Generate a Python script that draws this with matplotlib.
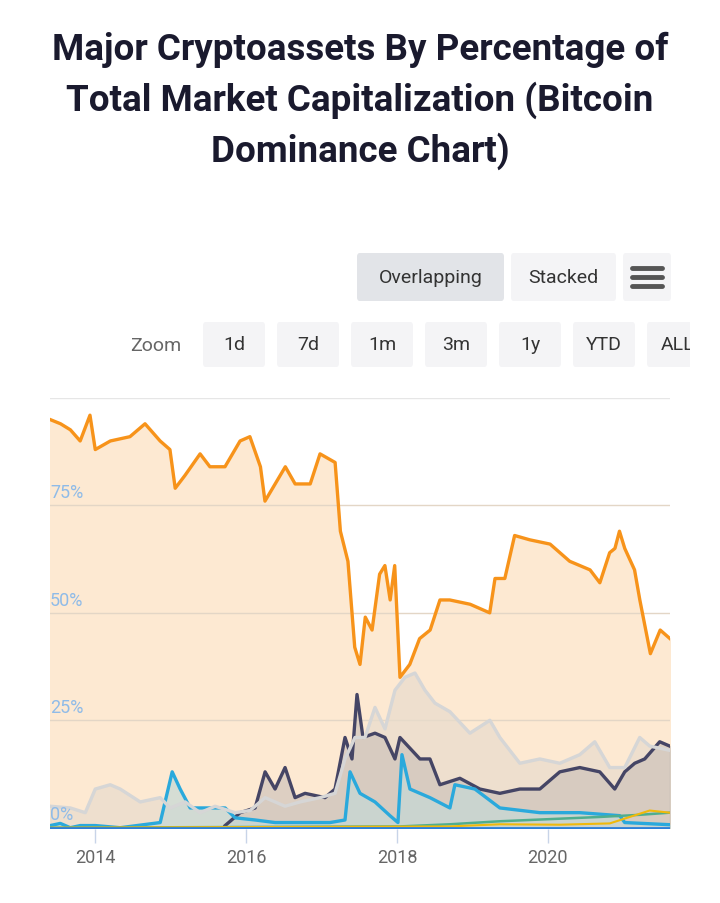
import matplotlib.pyplot as plt
from matplotlib.patches import FancyBboxPatch, Rectangle

plt.rcParams['font.family'] = ['Roboto', 'DejaVu Sans']

# Bitcoin dominance (%)
btc_t = [2013.40, 2013.54, 2013.67, 2013.80, 2013.93, 2014.00, 2014.20, 2014.46, 2014.66, 2014.86,
         2014.99, 2015.06, 2015.19, 2015.39, 2015.52, 2015.72, 2015.92, 2016.05, 2016.19, 2016.25,
         2016.52, 2016.65, 2016.85, 2016.98, 2017.18, 2017.25, 2017.35, 2017.44, 2017.51, 2017.58,
         2017.67, 2017.77, 2017.84, 2017.91, 2017.97, 2018.04, 2018.17, 2018.30, 2018.44, 2018.57,
         2018.70, 2018.97, 2019.23, 2019.30, 2019.43, 2019.56, 2019.76, 2020.03, 2020.29, 2020.56,
         2020.69, 2020.82, 2020.89, 2020.95, 2021.02, 2021.15, 2021.22, 2021.36, 2021.49, 2021.62]
btc_v = [95, 94, 92.6, 90, 96, 88, 90, 91, 94, 90,
         88, 79, 82, 87, 84, 84, 90, 91, 84, 76,
         84, 80, 80, 87, 85, 69, 62, 42, 38, 49,
         46, 59, 61, 53, 61, 35, 38, 44, 46, 53,
         53, 52, 50, 58, 58, 68, 67, 66, 62, 60,
         57, 64, 65, 69, 65, 60, 53, 40.5, 46, 44]

# Others
oth_x = [50, 70, 85, 95, 110, 120, 140, 160, 170, 185, 200, 215, 235, 250, 265, 285, 300, 320, 335,
         345, 355, 365, 375, 385, 395, 405, 415, 425, 435, 450, 470, 490, 500, 520, 540, 560, 580,
         595, 610, 625, 640, 650, 670]
oth_v = [5, 4.6, 3.5, 9, 10, 9, 6, 7, 4.6, 6, 3.5, 5, 3.5, 4, 7, 5, 6, 7, 8,
         16, 21, 21, 28, 23, 32, 35, 36, 32, 29, 27, 22, 25, 21, 15, 16, 15, 17,
         20, 14, 14, 21, 19, 18]

# Ethereum
eth_x = [225, 240, 255, 265, 275, 285, 295, 305, 325, 335, 345, 352, 357, 363, 375, 385, 395, 400,
         410, 420, 430, 440, 460, 480, 500, 520, 540, 560, 580, 600, 615, 625, 635, 645, 660, 670]
eth_v = [0.5, 3.5, 4.6, 13, 9, 14, 7, 8, 7, 9, 21, 16, 31, 21, 22, 21, 16, 21,
         18.5, 16, 16, 10, 11.5, 9, 8, 9, 9, 13, 14, 13, 9, 13, 15, 16, 20, 19]

# XRP
xrp_x = [50, 60, 70, 80, 95, 120, 160, 172, 180, 190, 210, 225, 235, 255, 275, 300, 330, 345, 350,
         360, 375, 390, 398, 402, 410, 430, 450, 455, 475, 500, 540, 580, 620, 625, 670]
xrp_v = [0.5, 1, 0, 0.5, 0.5, 0, 1.2, 13, 9, 4.6, 4.6, 4.6, 2.3, 1.8, 1.2, 1.2, 1.2, 1.8, 13,
         8, 6, 2.8, 1.2, 17, 9, 7, 4.6, 10, 9, 4.6, 3.5, 3.5, 2.8, 1.2, 0.7]

# Tether / BNB (small series)
usdt_x = [50, 400, 450, 500, 550, 600, 640, 670]
usdt_v = [0, 0.3, 0.8, 1.5, 2, 2.5, 3, 3.5]
bnb_x = [50, 450, 500, 560, 610, 630, 650, 670]
bnb_v = [0, 0.3, 0.8, 0.7, 1, 2.5, 4, 3.5]


def px2year(xs):
    return [2014 + (x - 95) / 75.5 for x in xs]


fig = plt.figure(figsize=(7.2, 9.04), dpi=100)

fig.text(0.5, 1 - 101 / 904, "Major Cryptoassets By Percentage of\nTotal Market Capitalization (Bitcoin\nDominance Chart)",
         ha='center', va='center', fontsize=26.5, fontweight='bold', color='#1a1a2e', linespacing=1.45)


def button(x0, y0, w, h, label, bg, fs=14):
    fig.patches.append(FancyBboxPatch((x0 / 720, 1 - (y0 + h) / 904), w / 720, h / 904,
                                      boxstyle='round,pad=0,rounding_size=0.004', transform=fig.transFigure,
                                      facecolor=bg, edgecolor='none'))
    if label:
        fig.text((x0 + w / 2) / 720, 1 - (y0 + h / 2) / 904, label, ha='center', va='center',
                 fontsize=fs, color='#333333')


button(357, 254, 147, 48, "Overlapping", '#e2e4e8')
button(511, 254, 105, 48, "Stacked", '#f4f4f6')
button(623, 254, 48, 48, "", '#f4f4f6')
for dy in (-9, 0, 9):
    fig.lines.append(plt.Line2D([632 / 720, 662 / 720], [1 - (278 + dy) / 904] * 2, transform=fig.transFigure,
                                color='#555555', lw=3.5, solid_capstyle='round'))

fig.text(130 / 720, 1 - 346 / 904, "Zoom", ha='left', va='center', fontsize=14, color='#666666')
for x0, w, lab in [(203, 62, "1d"), (277, 62, "7d"), (351, 62, "1m"), (425, 62, "3m"),
                   (499, 62, "1y"), (573, 62, "YTD"), (647, 62, "ALL")]:
    button(x0, 323, w, 45, lab, '#f4f4f6')
# the range selector is cut off at the right edge
cover = Rectangle((690 / 720, 1 - 372 / 904), 30 / 720, 52 / 904, transform=fig.transFigure,
                  facecolor='white', edgecolor='none', zorder=10)
fig.patches.append(cover)

ax = fig.add_axes([50 / 720, 1 - 830 / 904, 620 / 720, 431 / 904])
ax.set_xlim(2013.40, 2021.62)
ax.set_ylim(-0.3, 100)

bt = btc_t
ax.fill_between(bt, btc_v, 0, color='#fde9d2', zorder=1)
ax.plot(bt, btc_v, color='#f7931a', lw=2.4, zorder=5)

ot = px2year(oth_x)
ax.fill_between(ot, oth_v, 0, color='#e8dccd', alpha=0.7, zorder=2)
ax.plot(ot, oth_v, color='#d6d6d6', lw=2.4, zorder=4)

et = px2year(eth_x)
ax.fill_between(et, eth_v, 0, color='#c9bfb8', alpha=0.6, zorder=2)
ax.plot(et, eth_v, color='#454565', lw=2.4, zorder=3)

xt = px2year(xrp_x)
ax.fill_between(xt, xrp_v, 0, color='#c5d8d6', alpha=0.7, zorder=2)
ax.plot(xt, xrp_v, color='#2aa9dc', lw=2.4, zorder=3)

ax.plot(px2year(usdt_x), usdt_v, color='#4fae8e', lw=1.8, zorder=3)
ax.plot(px2year(bnb_x), bnb_v, color='#f0b90b', lw=1.5, zorder=3)
ax.axhline(0, color='#2b7fd8', lw=2, zorder=3)

for v in (25, 50, 75, 100):
    ax.axhline(v, color='#e3d6c6' if v < 100 else '#e6e6e6', lw=1, zorder=1.5)
for v in (0, 25, 50, 75):
    ax.text(2013.40, v + 1.0, f"{v}%", ha='left', va='bottom', fontsize=13, color='#8fbbe8', zorder=6)

for s in ax.spines.values():
    s.set_visible(False)
ax.set_yticks([])
ax.set_xticks([2014, 2016, 2018, 2020])
ax.set_xticklabels(['2014', '2016', '2018', '2020'])
ax.tick_params(axis='x', length=10, width=1, color='#c8d4e8', labelsize=13, labelcolor='#666666', pad=4)

fig.savefig('out.png', dpi=100)
